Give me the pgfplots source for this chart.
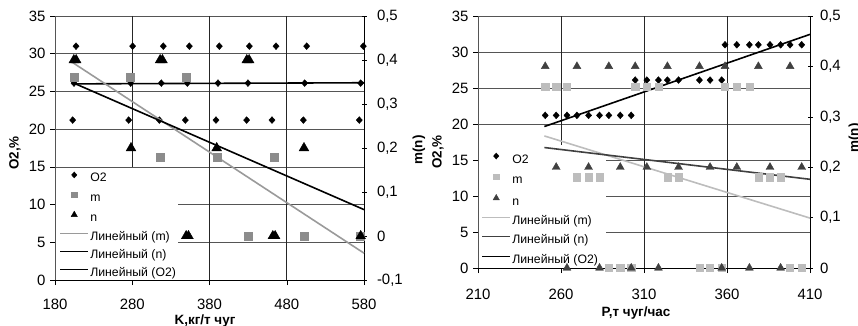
\documentclass[border=0pt]{standalone}
\usepackage{pgfplots}
\pgfplotsset{compat=1.18}
\usepackage{pgfplotstable}
\usepackage{fontspec}
\setmainfont{Liberation Sans}

\definecolor{gridc}{HTML}{555555}
\definecolor{mL}{HTML}{8C8C8C}
\definecolor{mLt}{HTML}{9A9A9A}
\definecolor{mR}{HTML}{BDBDBD}
\definecolor{nR}{HTML}{404040}

\pgfplotstableread{
P O2 m n
250.5 21.2 0.36 0.4
257.1 21.2 0.36 0.2
263.6 21.2 0.36 0
269.6 21.2 0.18 0.4
276.6 21.2 0.18 0.2
283.2 21.2 0.18 0
288.8 21.2 0 0.4
295.7 21.2 0 0.2
302.3 21.2 0 0
304.7 26.1 0.36 0.4
311.7 26.1 0.36 0.2
318.7 26.1 0.36 0
324.1 26.1 0.18 0.4
330.8 26.1 0.18 0.2
343.4 26.1 0 0.4
349.8 26.1 0 0.2
356.8 26.1 0 0
358.8 31 0.36 0.4
365.9 31 0.36 0.2
373.5 31 0.36 0
378.9 31 0.18 0.4
385.9 31 0.18 0.2
392.3 31 0.18 0
398 31 0 0.4
405 31 0 0.2
}\rightdata

\pgfplotsset{
  base/.style={scale only axis, clip=false,
    tick label style={font=\fontsize{15}{17}\selectfont},
    /pgf/number format/assume math mode=true,
    /pgf/number format/use comma,
    major tick length=5bp,
    tick style={black, line width=0.5bp}},
  lgd/.style={legend cell align=left,
    legend image code/.code={\draw[mark repeat=2,mark phase=2,##1] plot coordinates {(0bp,4bp) (14bp,4bp) (28bp,4bp)};},
    legend style={fill=none, draw=none, inner sep=0pt,
      font=\fontsize{12.3}{14}\selectfont,
      nodes={inner ysep=0pt, inner xsep=1.5bp, text height=8.5bp, text depth=2.5bp}}},
  dia/.style={only marks, mark=diamond*, mark size=3.4bp, mark options={xscale=1.2}},
}

\begin{document}
\begin{tikzpicture}
% ================= LEFT PANEL =================
\begin{axis}[base, at={(55bp,46bp)}, anchor=south west, width=309bp, height=264bp,
  xmin=180, xmax=580, ymin=0, ymax=35,
  xtick={180,280,380,480,580}, ytick={0,5,10,15,20,25,30,35},
  axis x line*=bottom, axis y line*=left, tick align=outside,
  x axis line style={black, line width=0.6bp, -},
  y axis line style={gridc, line width=0.6bp, -},
  xticklabel style={yshift=-11bp}, yticklabel style={xshift=-1bp}]
\draw[gridc, line width=0.6bp] (axis cs:180,35) -- (axis cs:580,35);
\draw[gridc, line width=0.6bp] (axis cs:180,30) -- (axis cs:580,30);
\draw[gridc, line width=0.6bp] (axis cs:180,25) -- (axis cs:580,25);
\draw[gridc, line width=0.6bp] (axis cs:180,20) -- (axis cs:580,20);
\draw[gridc, line width=0.6bp] (axis cs:180,15) -- (axis cs:580,15);
\draw[gridc, line width=0.6bp] (axis cs:339.7,10) -- (axis cs:580,10);
\draw[gridc, line width=0.6bp] (axis cs:339.7,5) -- (axis cs:580,5);
\draw[black!85, line width=0.6bp] (axis cs:280,35) -- (axis cs:280,15);
\draw[black!85, line width=0.6bp] (axis cs:380,35) -- (axis cs:380,0);
\draw[black!85, line width=0.6bp] (axis cs:480,35) -- (axis cs:480,0);
\addplot[dia, black] coordinates {
 (207.2,31) (280.5,31) (320.2,31) (353.9,31) (392.7,31) (431.6,31) (466.1,31) (505.8,31) (579.1,31)
 (204.6,26.1) (278,26.1) (317.6,26.1) (351.3,26.1) (391,26.1) (429.8,26.1) (503.2,26.1) (575.7,26.1)
 (202.9,21.2) (275.4,21.2) (315.1,21.2) (348.7,21.2) (388.4,21.2) (428.1,21.2) (460.9,21.2) (501.5,21.2) (573.9,21.2)};
\addplot[black, line width=1.6bp] coordinates {(205,26.0) (580,26.15)};
\end{axis}
\begin{axis}[base, lgd, at={(55bp,46bp)}, anchor=south west, width=309bp, height=264bp,
  xmin=180, xmax=580, ymin=-0.1, ymax=0.5,
  ytick={-0.1,0,0.1,0.2,0.3,0.4,0.5},
  axis x line=none, axis y line*=right, tick align=center,
  y axis line style={black, line width=0.6bp, -},
  yticklabel style={/pgf/number format/fixed, /pgf/number format/precision=1, xshift=7bp},
  legend style={at={(0.0146,0.41)}, anchor=north west, row sep=7.3bp}]
\addlegendimage{only marks, mark=diamond*, black, mark size=3bp, mark options={xscale=1.2}}
\addlegendentry{O2}
\addlegendimage{only marks, mark=square*, mL, mark size=2.6bp}
\addlegendentry{m}
\addlegendimage{only marks, mark=triangle*, black, mark size=3.6bp}
\addlegendentry{n}
\addlegendimage{mLt, line width=1.1bp}
\addlegendentry{Линейный (m)}
\addlegendimage{black, line width=1.1bp}
\addlegendentry{Линейный (n)}
\addlegendimage{black, line width=1.1bp}
\addlegendentry{Линейный (O2)}
\addplot[forget plot, only marks, mark=square*, mark size=4bp, mL] coordinates {
 (204.6,0.36) (277.1,0.36) (350.4,0.36)
 (316.8,0.18) (390.1,0.18) (463.5,0.18)
 (429.8,0) (503.2,0) (574.8,0)};
\addplot[forget plot, only marks, mark=triangle*, mark size=5.6bp, black] coordinates {
 (204.4,0.4) (207.4,0.4) (316.1,0.4) (319.1,0.4) (428.3,0.4) (431.3,0.4)
 (278.4,0.2) (389.3,0.2) (502.3,0.2)
 (349.8,0) (352.8,0) (462,0) (465,0) (575.7,0)};
\addplot[forget plot, mLt, line width=1.6bp] coordinates {(203,0.394) (580,-0.039)};
\addplot[forget plot, black, line width=1.6bp] coordinates {(205,0.347) (580,0.06)};
\end{axis}
\node[rotate=90, font=\bfseries\fontsize{13.5}{15}\selectfont] at (15bp,173bp) {O2,\%};
\node[rotate=90, font=\bfseries\fontsize{13.5}{15}\selectfont] at (419bp,176bp) {m(n)};
\node[anchor=base, font=\bfseries\fontsize{13.5}{15}\selectfont] at (205bp,1.5bp) {K,кг/т чуг};

% ================= RIGHT PANEL =================
\begin{axis}[base, at={(478bp,58bp)}, anchor=south west, width=332bp, height=252bp,
  xmin=210, xmax=410, ymin=0, ymax=35,
  xtick={210,260,310,360,410}, ytick={0,5,10,15,20,25,30,35},
  axis x line*=bottom, axis y line*=left, tick align=outside,
  x axis line style={black, line width=0.6bp, -},
  y axis line style={gridc, line width=0.6bp, -},
  xticklabel style={yshift=-13bp}, yticklabel style={xshift=-1bp}]
\draw[gridc, line width=0.6bp] (axis cs:210,35) -- (axis cs:410,35);
\draw[gridc, line width=0.6bp] (axis cs:210,30) -- (axis cs:410,30);
\draw[gridc, line width=0.6bp] (axis cs:210,25) -- (axis cs:410,25);
\draw[gridc, line width=0.6bp] (axis cs:210,20) -- (axis cs:410,20);
\draw[gridc, line width=0.6bp] (axis cs:287.2,15) -- (axis cs:410,15);
\draw[gridc, line width=0.6bp] (axis cs:287.2,10) -- (axis cs:410,10);
\draw[gridc, line width=0.6bp] (axis cs:287.2,5) -- (axis cs:410,5);
\draw[black!85, line width=0.6bp] (axis cs:260,35) -- (axis cs:260,17.1);
\draw[black!85, line width=0.6bp] (axis cs:310,35) -- (axis cs:310,0);
\draw[black!85, line width=0.6bp] (axis cs:360,35) -- (axis cs:360,0);
\addplot[dia, black] table[x=P, y=O2] {\rightdata};
\addplot[black, line width=1.6bp] coordinates {(250,19.65) (410,32.45)};
\end{axis}
\begin{axis}[base, lgd, at={(478bp,58bp)}, anchor=south west, width=332bp, height=252bp,
  xmin=210, xmax=410, ymin=0, ymax=0.5,
  ytick={0,0.1,0.2,0.3,0.4,0.5},
  axis x line=none, axis y line*=right, tick align=center,
  y axis line style={black, line width=0.6bp, -},
  yticklabel style={/pgf/number format/fixed, /pgf/number format/precision=1, xshift=4bp},
  legend style={at={(0.0105,0.457)}, anchor=north west, row sep=8.4bp}]
\addlegendimage{only marks, mark=diamond*, black, mark size=3bp, mark options={xscale=1.2}}
\addlegendentry{O2}
\addlegendimage{only marks, mark=square*, mR, mark size=2.6bp}
\addlegendentry{m}
\addlegendimage{only marks, mark=triangle*, nR, mark size=3.6bp}
\addlegendentry{n}
\addlegendimage{mR, line width=1.1bp}
\addlegendentry{Линейный (m)}
\addlegendimage{nR, line width=1.1bp}
\addlegendentry{Линейный (n)}
\addlegendimage{black, line width=1.1bp}
\addlegendentry{Линейный (O2)}
\addplot[forget plot, only marks, mark=square*, mark size=3.6bp, mR] table[x=P, y=m] {\rightdata};
\addplot[forget plot, only marks, mark=triangle*, mark size=4.6bp, nR] table[x=P, y=n] {\rightdata};
\addplot[forget plot, mR, line width=1.6bp] coordinates {(250,0.262) (410,0.099)};
\addplot[forget plot, nR, line width=1.6bp] coordinates {(250,0.239) (410,0.176)};
\end{axis}
\node[rotate=90, font=\bfseries\fontsize{13.5}{15}\selectfont] at (438bp,174bp) {O2,\%};
\node[rotate=90, font=\bfseries\fontsize{13.5}{15}\selectfont] at (855bp,188bp) {m(n)};
\node[anchor=base, font=\bfseries\fontsize{13.5}{15}\selectfont] at (636bp,10bp) {P,т чуг/час};

\pgfresetboundingbox
\useasboundingbox (0,0) rectangle (858bp,326bp);
\end{tikzpicture}
\end{document}
